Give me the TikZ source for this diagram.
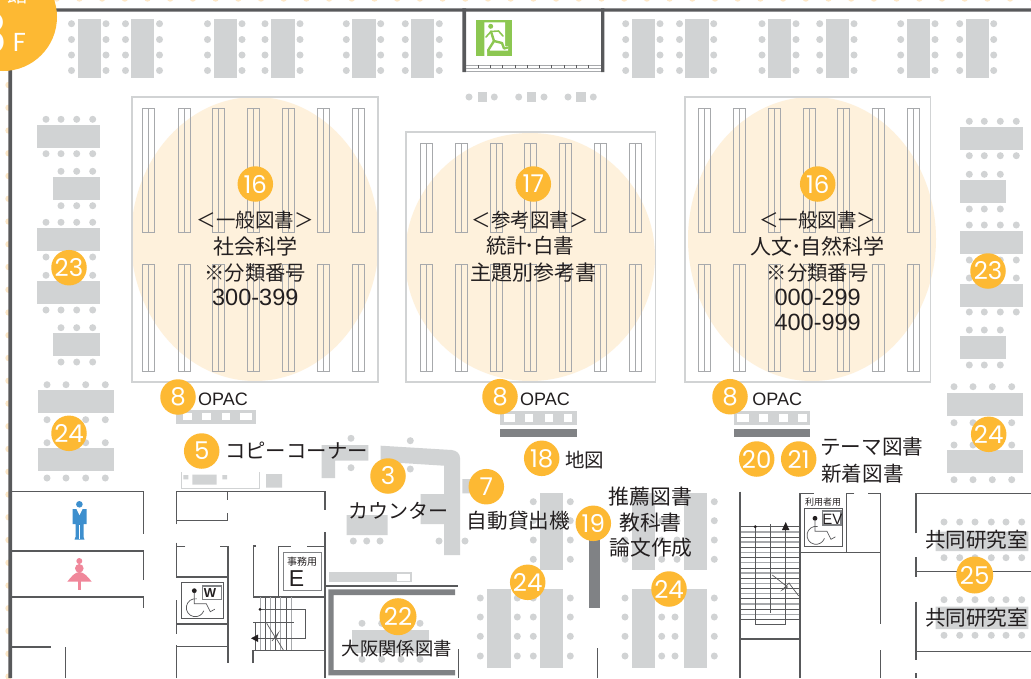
\documentclass[tikz,border=0pt]{standalone}
\usepackage{fontspec}
\setmainfont{Noto Sans CJK JP}
\newfontfamily\latinf{Liberation Sans}
\newfontfamily\numf{Poppins}
\definecolor{wallc}{HTML}{58595B}
\definecolor{tblc}{HTML}{D1D3D4}
\definecolor{darkbar}{HTML}{808285}
\definecolor{shelfc}{HTML}{A7A9AC}
\definecolor{badge}{HTML}{FDB933}
\definecolor{pale}{HTML}{FEF1DC}
\definecolor{faint}{HTML}{FDE7C6}
\definecolor{exitg}{HTML}{8CC751}
\definecolor{manc}{HTML}{3D8FCE}
\definecolor{ladyc}{HTML}{F0879A}
\definecolor{txtc}{HTML}{231F20}
\tikzset{
  wall/.style={draw=wallc,line width=1.3pt},
  thick wall/.style={draw=wallc,line width=3.5pt},
  tbl/.style={fill=tblc},
  bar/.style={fill=darkbar},
  winw/.style={fill=white},
  shelfbox/.style={draw=tblc,line width=1.2pt},
  shelfln/.style={draw=shelfc,line width=0.8pt},
  grayln/.style={draw=shelfc,line width=1.4pt},
  darkln/.style={draw=wallc,line width=0.8pt},
  symln/.style={draw=wallc,line width=0.7pt},
  num/.style={circle,fill=badge,text=white,minimum size=35.5pt,inner sep=0pt,font=\numf\fontsize{24.5}{25}\selectfont},
  lbl/.style={inner sep=0pt,text=txtc,font=\fontsize{19.5}{20}\selectfont},
  lbw/.style={inner sep=0pt,text=txtc,font=\fontsize{21}{21}\selectfont},
  lat/.style={inner sep=0pt,text=txtc,font=\latinf\fontsize{23.5}{24}\selectfont},
  opac/.style={inner sep=0pt,text=txtc,font=\latinf\fontsize{18}{18}\selectfont},
}
\newcommand\dotat[2]{\fill[tblc] (#1,#2) circle (3.5pt);}
% column table of the top row: left edge, left dots, right dots
\newcommand\topdesk[3]{\fill[tbl] (#1,19) rectangle ++(23.3,59);
  \foreach \yy in {23.7,39.5,55,70.5}{\dotat{#2}{\yy}\dotat{#3}{\yy}}}
% horizontal table: x1,x2,y1, dot xs, dot y above, dot y below
\newcommand\hdesk[6]{\fill[tbl] (#1,#3) rectangle (#2,#3+23);
  \foreach \xx in {#4}{\dotat{\xx}{#5}\dotat{\xx}{#6}}}
% shelf block: left edge, y1, y2
\newcommand\shelf[3]{\draw[shelfln] (#1,#2) rectangle (#1+12,#3); \draw[shelfln] (#1+6,#2) -- (#1+6,#3);}
% wheelchair sign, origin at the head
\newcommand\wheelchair[2]{\begin{scope}[shift={(#1,#2)}]
  \fill[txtc] (0,0) circle (2.4pt);
  \draw[symln] (0,2) -- (0,13) -- (12,13) -- (16,21) -- (20.5,18.5);
  \draw[symln] (2.56,8.14) arc[start angle=80,end angle=340,radius=9pt];
\end{scope}}
\newcommand\nakaguro[1]{\makebox[#1][c]{･}}
\begin{document}
\begin{tikzpicture}[x=1pt,y=-1pt]
\useasboundingbox (0,0) rectangle (1031,678);
\begin{scope}
\clip (0,0) rectangle (1031,678);
\fill[white] (0,0) rectangle (1031,678);
% faint border dots
\foreach \k in {0,...,43}{\fill[faint] (56.7+22.7*\k,-1.5) circle (3.2pt);}
\foreach \k in {0,...,26}{\fill[faint] (8.5,85+22.75*\k) circle (3.2pt);}
% pale ellipses
\fill[pale] (255,239) ellipse [x radius=124pt,y radius=142pt];
\fill[pale] (530,257) ellipse [x radius=125pt,y radius=124pt];
\fill[pale] (812,239) ellipse [x radius=124pt,y radius=142pt];
% shelf boxes
\draw[shelfbox] (132,97) rectangle (378,382);
\draw[shelfbox] (406,132) rectangle (655.3,382);
\draw[shelfbox] (685,97) rectangle (930.7,382);
\foreach \s in {142.3,178,212.3,247.7,282,317,352.3,698,733.3,768,803.3,837.3,872.3,907}{\shelf{\s}{108.3}{232}\shelf{\s}{264}{371.5}}
\foreach \s in {420,455.3,490,524.3,559,594.3,629}{\shelf{\s}{143.3}{232}\shelf{\s}{264}{371.5}}
% top desks
\topdesk{77.5}{71.5}{106}\topdesk{131}{125.5}{159.5}\topdesk{213.7}{207.5}{242}\topdesk{271.3}{265}{300}
\topdesk{352.3}{346.3}{380.7}\topdesk{411}{405.3}{439.3}\topdesk{631.7}{625.7}{660}\topdesk{685.3}{679.5}{713.7}
\topdesk{768}{762}{796}\topdesk{825.7}{819.7}{854}\topdesk{906.7}{900.7}{935}\topdesk{965.7}{959.7}{993.7}
% small seats under the exit
\foreach \a/\b/\c in {469/477.7/494.3,518.7/526.7/544,568/576/593.3}{\dotat{\a}{97}\dotat{\c}{97}\fill[tbl] (\b,91.7) rectangle ++(9.5,10);}
% left desks
\hdesk{37.3}{99.7}{124.7}{46,61,76.7,92.7}{119.3}{153.7}
\hdesk{53.3}{99.7}{177}{61,76.7,92.7}{171.3}{205.7}
\hdesk{37.3}{99.7}{228}{46,61,76.7,92.7}{222.3}{257}
\hdesk{37.3}{99.7}{281.3}{46,61,76.7,92.7}{275.3}{310}
\hdesk{53.3}{99.7}{333.3}{61,76.7,92.7}{327.7}{362}
\hdesk{38.3}{114}{390}{47,66,85.7,105.3}{384.7}{419.7}
\hdesk{38.3}{114}{448.3}{47,66,85.7,105.3}{442.7}{478}
% right desks
\hdesk{960.3}{1022.7}{127}{969.3,984.3,1000.3,1016.3}{121.3}{155.7}
\hdesk{960.3}{1006.3}{180}{969.3,984.3,1000.3}{174.3}{209}
\hdesk{960.3}{1022.7}{231}{969.3,984.3,1000.3,1016.3}{225}{260}
\hdesk{960.3}{1022.7}{283.5}{969.3,984.3,1000.3,1016.3}{278}{312}
\hdesk{960.3}{1006.3}{336}{969.3,984.3,1000.3}{330}{365}
\hdesk{947}{1022.7}{393.3}{954,973,992.3,1011.7}{386.7}{422.7}
\hdesk{947}{1022.7}{450.3}{954,973,992.3,1011.7}{445}{479.7}
% OPAC counters
\fill[tbl] (176.3,410) rectangle (255.7,423.7);
\foreach \a/\b in {183.3/191.7,202.3/211,221.7/230.3,239.7/252}{\fill[winw] (\a,413) rectangle (\b,420.3);}
\fill[tbl] (500.3,411.3) rectangle (576.7,424.7);
\foreach \a/\b in {503.7/515,525/533.3,545/553.3,564.3/572.3}{\fill[winw] (\a,414.3) rectangle (\b,421.7);}
\fill[bar] (500.3,428.7) rectangle (576.7,437.3);
\fill[tbl] (733.7,411.3) rectangle (810.3,424.7);
\foreach \a/\b in {736.7/748.7,759/768,779/788,798/807.3}{\fill[winw] (\a,414.3) rectangle (\b,421.7);}
\fill[bar] (733.7,428.7) rectangle (810.3,437.3);
% copy corner
\draw[tblc,line width=0.9pt] (181,472) -- (181,488.3) -- (259.7,488.3) -- (259.7,472);
\fill[tbl] (183.3,475) rectangle (188.3,479.3) (192.3,474.7) rectangle (216.7,484.7) (222.3,475) rectangle (227,479.3) (266,474) rectangle (282,487.7);
% reception counter
\fill[tbl] (321.7,445) rectangle (368.3,460.7) (321.7,460) rectangle (335,478);
\fill[tbl] (380.7,445.7) -- (451.7,450) .. controls (457,450.5) and (460,454) .. (460,458) -- (460,555) -- (444,555) -- (444,465.7) -- (380.7,461.7) -- cycle;
\fill[tbl] (420.7,494) rectangle (444,524) (346.7,515) rectangle (387.7,535) (462.3,479) rectangle (477,493.3);
\foreach \a/\b in {353.3/541,366.7/541,380/541,439/541,465/541,351/438.3,351/467.7,410.3/440.7,410.3/469}{\dotat{\a}{\b}}
% centre tables
\foreach \t in {540,631.7,684}{\fill[tbl] (\t,492.5) rectangle ++(23.3,77.5);}
\foreach \t in {487.3,540,631.7,684}{\fill[tbl] (\t,589) rectangle ++(23.3,78.7);}
\foreach \a in {533.3,570.3,625,661.7,677,714.3}{\foreach \b in {501.7,520.7,540,559.3}{\dotat{\a}{\b}}}
\foreach \a in {480.3,517.3,533.3,570.3,625,661.7,675,714.3}{\foreach \b in {598,617,636.3,656}{\dotat{\a}{\b}}}
\fill[bar] (589,510) rectangle (600,608.3);
% Osaka room
\fill[tbl] (329,571.7) rectangle (412.3,582.3);
\fill[winw] (397.3,574) rectangle (410,580.7);
\fill[bar] (328.3,589.3) rectangle (455,595) (328.3,670) rectangle (455,675.3) (328.3,589.3) rectangle (333.5,675.3);
\fill[tbl] (351.7,630) rectangle (429,653.3);
\foreach \a in {362,381.7,401,420}{\dotat{\a}{623.3}\dotat{\a}{659.3}}
% research rooms
\fill[tbl] (935.7,531.7) rectangle (1028.3,551) (935.7,606.7) rectangle (1028.3,629);
\foreach \a in {944,959.7,975,991.3,1006,1021.7}{\foreach \b in {522,557.7,599.7,635.3}{\dotat{\a}{\b}}}
% walls: outer
\fill[wallc] (40,8.3) rectangle (1031,11.7) (8.3,50) rectangle (12,678);
\fill[wallc] (462.3,8.3) rectangle (466,72) (601,8.3) rectangle (604.3,72);
% exit stairs
\foreach \y in {65.3,68,71}{\draw[draw=shelfc,line width=0.9pt] (466,\y) -- (601,\y);}
\foreach \k in {0,...,10}{\draw[darkln] (478+12.3*\k,65) -- (478+12.3*\k,68);}
% exit sign
\fill[exitg] (476,20) rectangle (512.3,56.3);
\fill[white] (484.3,22.3) rectangle (505,50.7) (484.3,50) rectangle (487,56.3) (505,46) rectangle (508,50.7);
\fill[exitg] (490.7,26.3) circle (2.5pt);
\draw[exitg,line width=2.4pt,line join=round,line cap=round] (491,31.5) -- (494,41) -- (502,43) -- (504,48.5) -- (507.5,47.5);
\draw[exitg,line width=2.4pt,line join=round,line cap=round] (494,41) -- (488,50.5) -- (492,54.5);
\draw[exitg,line width=1.6pt,line join=round,line cap=round] (486,37) -- (491,31.5) -- (498.5,31) -- (503,36);
% walls: toilets, left rooms
\draw[wall] (12,491.7) -- (143.7,491.7) -- (143.7,534.3);
\draw[wall] (12,551) -- (143.7,551) -- (143.7,580);
\draw[wall] (12,597) -- (143.7,597) -- (143.7,608);
\draw[wall] (12,647) -- (50.7,647);
\draw[wall] (65.3,647) -- (65.3,678);
\draw[wall] (176.7,524.3) -- (176.7,491.7) -- (325,491.7) -- (325,510);
\draw[wall] (227.7,491.7) -- (227.7,500.3);
\draw[wall] (227.7,513.3) -- (227.7,520.5) -- (176.7,520.5);
\draw[wall] (325,532.3) -- (325,678);
\draw[wall] (185.3,546.7) -- (176.7,546.7);
\draw[wall] (176.7,542.7) -- (176.7,577) -- (228,577);
\draw[wall] (220,546.7) -- (228,546.7) -- (228,663);
\draw[wall] (176.7,600) -- (176.7,634.3);
\draw[wall] (176.7,624) -- (228,624);
\draw[wall] (176.7,678) -- (176.7,645.3);
\draw[wall] (176.7,646.7) -- (228,646.7);
\draw[wall] (256,546) -- (253.3,546) -- (253.3,597) -- (325,597);
\draw[wall] (290.7,546.7) -- (278.3,546.7) -- (278.3,597);
\draw[wall] (307.3,546.7) -- (325,546.7);
\draw[wall] (325,586) -- (458,586);
\draw[wall] (458.3,649) -- (458.3,678);
\draw[wall] (597.7,648.3) -- (597.7,678);
% left stairs
\foreach \x/\c in {260/shelfc,265/wallc,270/shelfc,275/wallc,280.7/shelfc,286/wallc,291.5/shelfc}{\draw[draw=\c,line width=1pt] (\x,597) -- (\x,650);}
\draw[darkln,line width=1.2pt] (253.3,622.7) -- (294,622.7);
\draw[darkln] (255,622.7) -- (255,650);
\draw[symln] (260,609.3) -- (305.7,609.3) -- (305.7,638.3) -- (256,638.3);
\fill[txtc] (260,609.3) circle (1.5pt);
\fill[txtc] (251,638.3) -- (258,634.5) -- (258,642) -- cycle;
\draw[symln] (266.7,623.3) -- (275,637) -- (272,641) -- (278.3,633) -- (276,638) -- (283.3,650);
\draw[wall] (253,663) -- (253,650.7) -- (325,650.7);
% E box, W box
\draw[draw=darkbar,line width=0.9pt] (283.3,552.3) rectangle (321.7,590.7);
\draw[draw=wallc,line width=0.9pt] (181,582.7) rectangle (223.7,618.3);
\draw[draw=darkbar,line width=1.3pt] (202.7,586) rectangle (221.7,599.7);
\wheelchair{194.3}{590.7}
% right stairs and rooms
\foreach \i in {0,...,18}{\ifodd\i\relax\draw[grayln] (740,526.7+5.15*\i) -- (800,526.7+5.15*\i);\else\draw[darkln] (740,526.7+5.15*\i) -- (800,526.7+5.15*\i);\fi}
\draw[wall] (740,491.7) -- (740,678);
\draw[wall] (800,678) -- (800,493.3) -- (814,493.3);
\draw[wall] (854.3,493.3) -- (846.7,493.3) -- (846.7,552.3);
\draw[wall] (868.3,493.3) -- (880.7,493.3) -- (880.7,624);
\draw[wall] (800,552.3) -- (880.7,552.3);
\draw[wall] (880.7,650) -- (880.7,678);
\draw[wall] (740,639) -- (800,639);
\draw[wall] (770.7,524.3) -- (770.7,613.3);
\draw[symln] (755.3,526.7) -- (755.3,624.3) -- (785.7,624.3) -- (785.7,528);
\fill[txtc] (755.3,526.7) circle (1.6pt);
\fill[txtc] (785.7,522) -- (782,530) -- (789.4,530) -- cycle;
\draw[symln] (772.3,575) -- (787.5,587) -- (782,590) -- (789,583) -- (798.7,596);
\draw[draw=wallc,line width=0.9pt] (804,508.7) rectangle (842.3,546.7);
\draw[draw=darkbar,line width=1.3pt] (822.3,511) rectangle (841,525);
\wheelchair{815}{518.3}
\draw[wall] (916,533.3) -- (916,493.3) -- (1031,493.3);
\draw[wall] (916,557.3) -- (916,577.3);
\draw[wall] (916,571.3) -- (1031,571.3);
\draw[wall] (916,601.7) -- (916,660);
\draw[wall] (916,651.3) -- (1031,651.3);
\draw[wall] (916,673.3) -- (916,678);
% toilet icons
\fill[manc] (79.4,504.3) circle (3.3pt);
\fill[manc] (72.7,509) -- (86.7,509) -- (86.7,524) -- (83.5,524) -- (83.5,537) -- (84.5,539.5) -- (74.5,539.5) -- (75.5,537) -- (75.5,524) -- (72.7,524) -- cycle;
\fill[white] (76.5,509) -- (82.5,509) -- (79.5,515) -- cycle;
\draw[white,line width=0.5pt] (79.5,525) -- (79.5,539);
\fill[ladyc] (79.3,561) circle (3pt) (79.3,568.3) circle (4.3pt);
\fill[ladyc] (67.3,581.7) .. controls (71,577) and (75,572) .. (79.3,572) .. controls (84,572) and (88,577) .. (91.7,581.7) -- cycle;
\fill[ladyc] (78,581) rectangle (80.7,590);
% floor badge
\fill[badge] (3,17) circle (54pt);
\node[inner sep=0pt,text=white,font=\fontsize{20}{20}\selectfont] (bldg) at (18,-5) {館};
\node[inner sep=0pt,text=white,font=\numf\fontsize{56}{56}\selectfont] (floornum) at (-9,33) {3};
\node[inner sep=0pt,text=white,font=\numf\fontsize{26}{26}\selectfont] (floorf) at (19.5,42.5) {F};
% section labels
\node[lbl] (t1a) at (255.3,220) {＜一般図書＞};
\node[lbw] (t1b) at (255.3,246) {社会科学};
\node[lbl,font=\fontsize{20.3}{21}\selectfont] (t1c) at (255.3,273) {※分類番号};
\node[lat] (t1d) at (255.3,297) {300-399};
\node[lbl] (t2a) at (530,220) {＜参考図書＞};
\node[lbl,font=\fontsize{20.5}{21}\selectfont] (t2b) at (530,246) {統計\nakaguro{6pt}白書};
\node[lbw] (t2c) at (533,273) {主題別参考書};
\node[lbl] (t3a) at (817.7,220) {＜一般図書＞};
\node[lbw] (t3b) at (817.7,246) {人文\nakaguro{8pt}自然科学};
\node[lbl,font=\fontsize{20.3}{21}\selectfont] (t3c) at (817.7,273) {※分類番号};
\node[lat] (t3d) at (817.7,297) {000-299};
\node[lat] (t3e) at (817.7,322) {400-999};
\node[opac] (o1) at (223,399.5) {OPAC};
\node[opac] (o2) at (545,399.5) {OPAC};
\node[opac] (o3) at (777.3,399.5) {OPAC};
\node[lbl,font=\fontsize{20.4}{21}\selectfont] (copy) at (296.5,451) {コピーコーナー};
\node[lbl,font=\fontsize{20}{21}\selectfont] (ctr) at (398.3,510.7) {カウンター};
\node[lbl,font=\fontsize{20.6}{21}\selectfont] (auto) at (518.3,520.7) {自動貸出機};
\node[lbl] (map) at (584.5,460) {地図};
\node[lbl,font=\fontsize{20.8}{21}\selectfont] (s1) at (650.5,497) {推薦図書};
\node[lbl,font=\fontsize{20.8}{21}\selectfont] (s2) at (650.5,523) {教科書};
\node[lbl,font=\fontsize{20.8}{21}\selectfont] (s3) at (651,548) {論文作成};
\node[lbl,anchor=west,font=\fontsize{20.6}{21}\selectfont] (th) at (820,447) {テーマ図書};
\node[lbl,anchor=west,font=\fontsize{20.6}{21}\selectfont] (nw) at (821,474) {新着図書};
\node[lbl,font=\fontsize{20.6}{21}\selectfont] (r1) at (976.6,540) {共同研究室};
\node[lbl,font=\fontsize{20.6}{21}\selectfont] (r2) at (976.6,618) {共同研究室};
\node[lbl,font=\fontsize{18.3}{19}\selectfont] (osk) at (396.7,648.3) {大阪関係図書};
\node[lbl,font=\fontsize{10}{10}\selectfont] (jm) at (302,562) {事務用};
\node[lat,font=\latinf\fontsize{23}{23}\selectfont] (ee) at (296.5,578.5) {E};
\node[lbl,font=\fontsize{9}{9}\selectfont] (ry) at (823,502.5) {利用者用};
\node[lat,font=\latinf\fontsize{15}{15}\selectfont] (ev) at (832.3,519) {EV};
\node[lat,font=\latinf\bfseries\fontsize{13}{13}\selectfont] (wc) at (210,593) {W};
% number badges
\node[num] (n16a) at (255.3,184) {16};
\node[num] (n17) at (533.3,184) {17};
\node[num] (n16b) at (817.7,184) {16};
\node[num] (n23a) at (69,267.7) {23};
\node[num] (n23b) at (988,271) {23};
\node[num] (n24a) at (69,433.3) {24};
\node[num] (n24b) at (988.7,434.3) {24};
\node[num] (n8a) at (178,397) {8};
\node[num] (n8b) at (500,396.7) {8};
\node[num] (n8c) at (730,396.7) {8};
\node[num] (n5) at (201.7,451) {5};
\node[num] (n3) at (388,476) {3};
\node[num] (n7) at (486.3,486.7) {7};
\node[num] (n18) at (541.7,458.3) {18};
\node[num] (n19) at (593.3,523.3) {19};
\node[num] (n24c) at (527.7,582.3) {24};
\node[num] (n24d) at (669,589) {24};
\node[num,minimum size=37pt] (n22) at (398,616.7) {22};
\node[num] (n20) at (756.7,459) {20};
\node[num] (n21) at (798.7,459) {21};
\node[num,minimum size=37pt] (n25) at (974.7,575) {25};
\end{scope}
\end{tikzpicture}
\end{document}
